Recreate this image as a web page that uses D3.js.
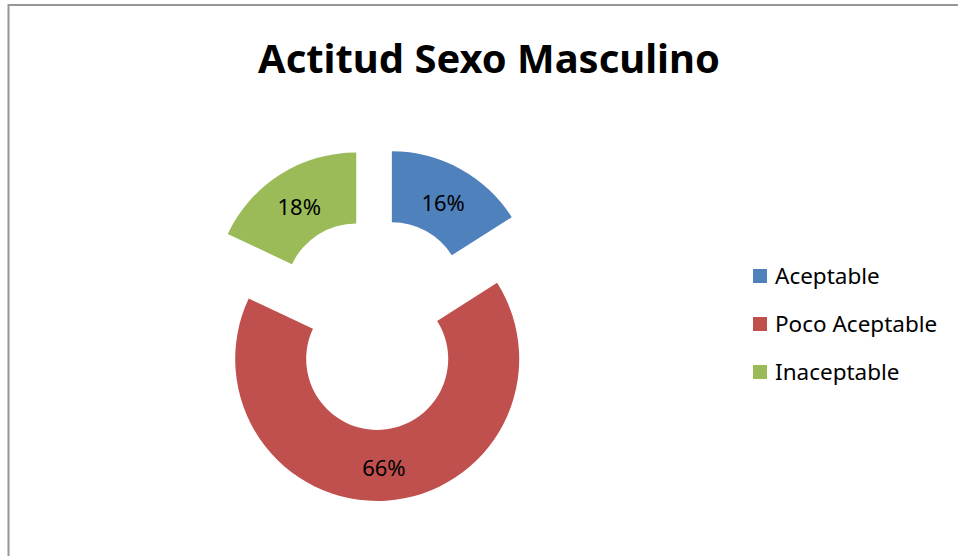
<!DOCTYPE html>
<html>
<head>
<meta charset="utf-8">
<script src="https://cdn.jsdelivr.net/npm/d3@7"></script>
<style>
  body { margin: 0; background: #fff; }
  text { font-family: "Noto Sans", "Liberation Sans", sans-serif; }
</style>
</head>
<body>
<svg id="chart" width="958" height="556"></svg>
<script>
// chart data
let categories = ["Aceptable", "Poco Aceptable", "Inaceptable"];
let shares = [16, 66, 18];
let colors = ["#4F81BD", "#C0504D", "#9BBB59"];
let title = "Actitud Sexo Masculino";

let svg = d3.select("#chart");

// outer frame (only top and left edges are visible in the picture)
svg.append("rect")
    .attr("x", 8.5)
    .attr("y", 5)
    .attr("width", 1000)
    .attr("height", 600)
    .attr("fill", "none")
    .attr("stroke", "#969696")
    .attr("stroke-width", 2);

// title, fitted to the width seen in the reference
let titleText = svg.append("text")
    .attr("x", 489)
    .attr("y", 73)
    .attr("text-anchor", "middle")
    .attr("font-weight", "bold")
    .attr("font-size", 100)
    .attr("fill", "#000")
    .text(title);
let tw = titleText.node().getComputedTextLength();
titleText.attr("font-size", 100 * 462 / tw);

// donut
let cx = 375, cy = 324;
let outerR = 142, innerR = 71, explode = 35;

let pie = d3.pie().sort(null).value((d) => d.value);
let arc = d3.arc().innerRadius(innerR).outerRadius(outerR);

let slices = pie(categories.map((c, i) => ({ name: c, value: shares[i], color: colors[i] })));

let donut = svg.append("g").attr("transform", `translate(${cx},${cy})`);

let sliceG = donut.selectAll("g.slice")
    .data(slices)
    .enter()
    .append("g")
    .attr("class", "slice")
    .attr("transform", (d) => {
        let mid = (d.startAngle + d.endAngle) / 2;
        return `translate(${explode * Math.sin(mid)},${-explode * Math.cos(mid)})`;
    });

sliceG.append("path")
    .attr("d", arc)
    .attr("fill", (d) => d.data.color);

sliceG.append("text")
    .attr("transform", (d) => {
        let c = arc.centroid(d);
        return `translate(${c[0]},${c[1] + 3})`;
    })
    .attr("text-anchor", "middle")
    .attr("dy", "0.35em")
    .attr("font-size", 22)
    .attr("fill", "#000")
    .text((d) => d.data.value + "%");

// legend
let legend = svg.append("g").attr("transform", "translate(753,276)");
let rows = legend.selectAll("g")
    .data(categories)
    .enter()
    .append("g")
    .attr("transform", (d, i) => `translate(0,${i * 48})`);

rows.append("rect")
    .attr("x", 0)
    .attr("y", -7)
    .attr("width", 14)
    .attr("height", 14)
    .attr("fill", (d, i) => colors[i]);

rows.append("text")
    .attr("x", 22)
    .attr("dy", "0.35em")
    .attr("font-size", 22.5)
    .attr("fill", "#000")
    .text((d) => d);
</script>
</body>
</html>
